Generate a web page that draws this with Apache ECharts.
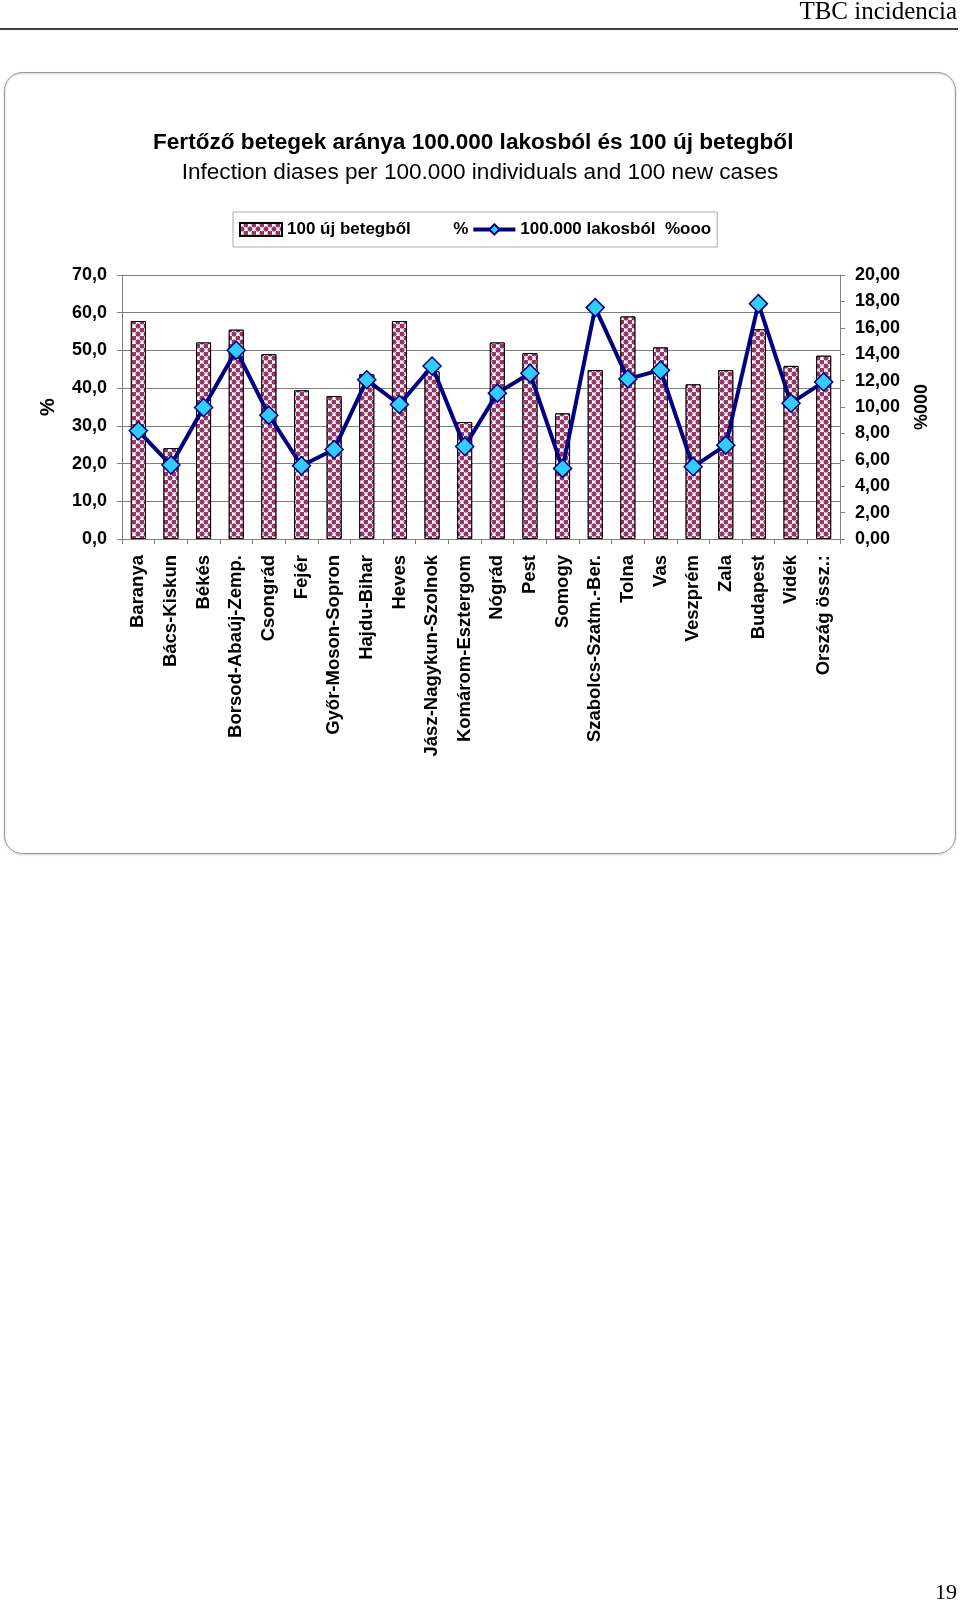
<!DOCTYPE html>
<html>
<head>
<meta charset="utf-8">
<title>TBC incidencia</title>
<script src="https://cdn.jsdelivr.net/npm/echarts@6/dist/echarts.min.js"></script>
<style>
  html, body { margin: 0; padding: 0; background: #fff; }
  #main { width: 960px; height: 1605px; }
</style>
</head>
<body>
<div id="main"></div>
<script>
// megyék / kategóriák
var megyek = ['Baranya', 'Bács-Kiskun', 'Békés', 'Borsod-Abaúj-Zemp.', 'Csongrád', 'Fejér',
  'Győr-Moson-Sopron', 'Hajdu-Bihar', 'Heves', 'Jász-Nagykun-Szolnok', 'Komárom-Esztergom',
  'Nógrád', 'Pest', 'Somogy', 'Szabolcs-Szatm.-Ber.', 'Tolna', 'Vas', 'Veszprém', 'Zala',
  'Budapest', 'Vidék', 'Ország össz.:'];

// 100 új betegből (%) - bal tengely
var ujBetegbol = [57.8, 24.1, 52.1, 55.5, 49.0, 39.4, 37.9, 43.7, 57.8, 44.5, 31.0,
  52.1, 49.3, 33.3, 44.8, 59.0, 50.8, 41.0, 44.8, 55.6, 45.9, 48.6];

// 100.000 lakosból (%ooo) - jobb tengely
var lakosbol = [8.20, 5.60, 9.96, 14.30, 9.38, 5.55, 6.78, 12.06, 10.19, 13.11, 7.01,
  11.05, 12.56, 5.35, 17.53, 12.13, 12.79, 5.47, 7.11, 17.83, 10.29, 11.90];

var nevBar = '100 új betegből         %';
var nevLine = '100.000 lakosból  %ooo';

var chart = echarts.init(document.getElementById('main'));

// kockás-pöttyös minta az oszlopokhoz
var pattern = {
  symbol: 'circle',
  symbolSize: 1.25,
  color: '#993366',
  backgroundColor: '#ffffff',
  dashArrayX: [[4, 4], [0, 4, 4, 0]],
  dashArrayY: [4, 0]
};

var fmt1 = function (v) { return v.toFixed(1).replace('.', ','); };
var fmt2 = function (v) { return v.toFixed(2).replace('.', ','); };

chart.setOption({
  animation: false,
  textStyle: { fontFamily: 'Liberation Sans, Arial, sans-serif' },
  title: [
    {
      left: 148,
      top: 126,
      text: 'Fertőző betegek aránya 100.000 lakosból és 100 új betegből',
      textStyle: { fontSize: 22.6, fontWeight: 'bold', color: '#000' }
    },
    {
      left: 'center',
      top: 156,
      text: 'Infection diases per 100.000 individuals and 100 new cases',
      textStyle: { fontSize: 22.6, fontWeight: 'normal', color: '#000' }
    }
  ],
  legend: {
    left: 233,
    top: 212,
    padding: [9, 6, 9, 6],
    itemGap: 3,
    itemWidth: 42,
    itemHeight: 13,
    borderColor: '#aaa',
    borderWidth: 1,
    textStyle: { fontSize: 17, fontWeight: 'bold', color: '#000' },
    data: [
      { name: nevBar, icon: 'rect' },
      { name: nevLine, lineStyle: { width: 4, color: '#000080' } }
    ]
  },
  graphic: [
    { type: 'text', right: 3, top: 0,
      style: { text: 'TBC incidencia', font: '25px "Liberation Serif", serif', fill: '#000' } },
    { type: 'line', shape: { x1: 0, y1: 29, x2: 958, y2: 29 },
      style: { stroke: '#000', lineWidth: 1.5 } },
    { type: 'rect', shape: { x: 4.5, y: 72.5, width: 951, height: 781, r: 18 },
      style: { fill: 'none', stroke: '#999', lineWidth: 1, shadowColor: 'rgba(0,0,0,0.25)', shadowBlur: 2, shadowOffsetY: 1 },
      z: -1 },
    { type: 'text', right: 3, top: 1582,
      style: { text: '19', font: '22px "Liberation Serif", serif', fill: '#000' } }
  ],
  grid: { left: 122, top: 275, width: 718, height: 264 },
  xAxis: {
    type: 'category',
    data: megyek,
    axisLine: { lineStyle: { color: '#808080', width: 1 } },
    axisTick: { show: true, length: 5, lineStyle: { color: '#808080' } },
    axisLabel: { rotate: 90, margin: 16, interval: 0, fontSize: 18.5, fontWeight: 'bold', color: '#000' }
  },
  yAxis: [
    {
      type: 'value', min: 0, max: 70, interval: 10,
      name: '%', nameLocation: 'middle', nameRotate: 90, nameGap: 64,
      nameTextStyle: { fontSize: 20, fontWeight: 'bold', color: '#000' },
      axisLine: { show: true, lineStyle: { color: '#808080' } },
      axisTick: { show: true, length: 5, lineStyle: { color: '#808080' } },
      splitLine: { lineStyle: { color: '#808080', width: 1 } },
      axisLabel: { margin: 15, fontSize: 18, fontWeight: 'bold', color: '#000', formatter: fmt1 }
    },
    {
      type: 'value', min: 0, max: 20, interval: 2, position: 'right',
      name: '%000', nameLocation: 'middle', nameRotate: 90, nameGap: 73,
      nameTextStyle: { fontSize: 18, fontWeight: 'bold', color: '#000' },
      axisLine: { show: true, lineStyle: { color: '#808080' } },
      axisTick: { show: true, length: 5, lineStyle: { color: '#808080' } },
      splitLine: { show: false },
      axisLabel: { margin: 15, fontSize: 18, fontWeight: 'bold', color: '#000', formatter: fmt2 }
    }
  ],
  series: [
    {
      name: nevBar,
      type: 'bar',
      data: ujBetegbol,
      barWidth: 15,
      itemStyle: { color: '#ffffff', borderColor: '#000', borderWidth: 1, decal: pattern }
    },
    {
      name: nevLine,
      type: 'line',
      yAxisIndex: 1,
      data: lakosbol,
      symbol: 'diamond',
      symbolSize: 18,
      lineStyle: { color: '#000080', width: 4 },
      itemStyle: { color: '#33ccff', borderColor: '#000080', borderWidth: 1.5 },
      z: 3
    }
  ]
});
</script>
</body>
</html>
